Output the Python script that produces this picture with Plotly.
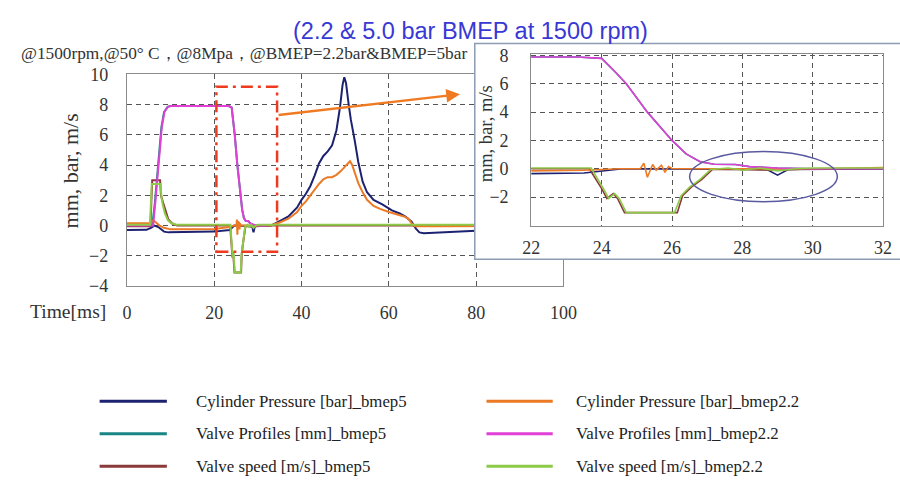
import plotly.graph_objects as go

W, H = 900, 484

# ---------------- data ----------------
cyl5_t = [0, 4.5, 5.5, 6.3, 7.2, 8.5, 9.5, 15, 20, 23.5, 24.2, 24.6, 26, 27.5, 28.7, 29.0, 29.3, 30.5, 33,
          35, 37, 39, 40, 41, 42, 43, 44, 45, 46, 47, 48, 48.8, 49.4, 49.8, 50.2, 50.8, 51.3, 52.2, 53, 54, 55,
          56.5, 58.5, 60.7, 62.5, 63.8, 65.2, 66.2, 67, 68, 72, 80, 100]
cyl5_v = [-0.3, -0.28, -0.15, 0.0, -0.1, -0.4, -0.45, -0.42, -0.4, -0.3, -0.1, 0.0, -0.02, -0.05, -0.05, -0.45, -0.05, -0.03, 0.0,
          0.3, 0.6, 1.2, 1.7, 2.1, 2.6, 3.3, 4.1, 4.6, 4.9, 5.3, 6.3, 7.8, 9.3, 9.8, 9.4, 8.0, 7.0, 5.6, 4.2, 2.9, 2.2,
          1.7, 1.4, 1.0, 0.8, 0.6, 0.25, -0.2, -0.45, -0.5, -0.45, -0.35, -0.35]

cyl22_t = [0, 5.5, 6.0, 6.6, 7.5, 8.5, 10, 15, 20, 23.5, 24.5, 25.1, 25.2, 25.3, 25.45, 25.55, 25.7, 25.8, 25.9, 26.0,
           26.5, 30, 33, 35, 37, 39, 40, 41, 42, 43, 44, 45, 46, 47, 48, 49, 50, 50.6, 51.1, 51.6, 52.3, 53, 54, 55,
           56.5, 58, 60, 62, 63.5, 64.5, 65.2, 66, 72, 100]
cyl22_v = [0.15, 0.15, 0.35, 0.2, 0.0, -0.15, -0.25, -0.25, -0.22, -0.1, 0.0, 0.0, 0.4, -0.6, 0.3, -0.1, 0.25, -0.25, 0.15, 0.02,
           0.0, 0.0, 0.02, 0.2, 0.45, 0.9, 1.3, 1.6, 2.0, 2.4, 2.75, 3.05, 3.2, 3.2, 3.35, 3.6, 3.9, 4.1, 4.25, 4.0, 3.4, 2.8, 2.2, 1.7,
           1.3, 1.1, 0.9, 0.75, 0.6, 0.45, 0.15, -0.05, -0.05, 0.0]

valve5_t = [0, 5.8, 6.4, 7.1, 7.9, 8.5, 9.3, 10, 23.3, 24.0, 24.4, 24.7, 25.3, 26.0, 26.4, 26.8, 27.2, 27.8, 28.2, 29.0, 30.0, 32]
valve5_v = [0, 0, 1.5, 3.7, 6.5, 7.5, 7.85, 7.9, 7.9, 7.8, 6.8, 6.0, 4.0, 2.0, 1.05, 0.5, 0.32, 0.3, 0.15, 0.05, 0.0, 0.0]

valve22_t = [0, 6.0, 6.5, 7.2, 8.0, 8.6, 9.4, 10, 23.3, 24.0, 24.4, 24.7, 25.3, 26.0, 26.4, 26.8, 27.2, 27.8, 28.2, 29.0, 30.0, 32]
valve22_v = [0, 0, 1.5, 3.7, 6.5, 7.5, 7.85, 7.9, 7.9, 7.8, 6.8, 6.0, 4.0, 2.0, 1.05, 0.5, 0.32, 0.3, 0.15, 0.05, 0.0, 0.0]

speed5_t = [0, 5.4, 5.6, 5.8, 7.6, 7.8, 8.3, 8.8, 9.5, 10.3, 11.5, 12, 22, 23.65, 24.0, 24.15, 24.33, 24.45, 24.65, 26.15,
            26.3, 26.55, 26.85, 27.15, 28, 29, 30, 100]
speed5_v = [-0.05, -0.05, 1.6, 3.0, 3.0, 2.0, 1.5, 1.0, 0.4, 0.15, 0.0, 0.0, 0.0, 0.0, -1.4, -2.1, -1.75, -2.1, -3.1, -3.1,
            -1.9, -1.3, -0.75, -0.05, -0.05, -0.1, 0.0, 0.0]

speed22_t = [0, 5.3, 5.5, 5.7, 7.7, 7.9, 8.2, 8.7, 9.4, 10.2, 11.3, 12, 22, 23.7, 24.05, 24.2, 24.37, 24.5, 24.7, 26.07,
             26.26, 26.5, 26.8, 27.1, 27.6, 28.0, 28.5, 29.0, 29.5, 30, 100]
speed22_v = [0.05, 0.05, 1.5, 2.75, 2.75, 1.9, 1.4, 0.8, 0.35, 0.15, 0.05, 0.05, 0.08, 0.05, -1.4, -2.1, -1.76, -2.1, -3.1, -3.1,
             -1.9, -1.3, -0.75, -0.05, 0.05, -0.1, 0.05, -0.15, 0.0, 0.05, 0.05]

series_names = ["Cylinder Pressure [bar]_bmep5", "Valve Profiles [mm]_bmep5", "Valve speed [m/s]_bmep5",
                "Cylinder Pressure [bar]_bmep2.2", "Valve Profiles [mm]_bmep2.2", "Valve speed [m/s]_bmep2.2"]
series_colors = ["#1d2270", "#1a8585", "#8b3a3a", "#ec7a24", "#e040d6", "#8cca48"]
series_t = [cyl5_t, valve5_t, speed5_t, cyl22_t, valve22_t, speed22_t]
series_v = [cyl5_v, valve5_v, speed5_v, cyl22_v, valve22_v, speed22_v]
draw_order = [0, 1, 2, 3, 4, 5]

main_xticks = [0, 20, 40, 60, 80, 100]
main_yticks = [-4, -2, 0, 2, 4, 6, 8, 10]
inset_xticks = [22, 24, 26, 28, 30, 32]
inset_yticks = [-2, 0, 2, 4, 6, 8]

title_text = "(2.2 & 5.0 bar BMEP at 1500 rpm)"
subtitle_text = "@1500rpm,@50° C，@8Mpa，@BMEP=2.2bar&BMEP=5bar"
ytitle_text = "mm, bar, m/s"
xtitle_text = "Time[ms]"

# ---------------- figure ----------------
fig = go.Figure()

# empty trace so that the white inset-box subplot exists (it hides the main chart below it)
fig.add_trace(go.Scatter(x=[None], y=[None], xaxis="x2", yaxis="y2", showlegend=False, hoverinfo="skip"))

for i in draw_order:
    fig.add_trace(go.Scatter(x=series_t[i], y=series_v[i], mode="lines", name=series_names[i],
                             line=dict(color=series_colors[i], width=2), xaxis="x", yaxis="y",
                             showlegend=False))
for i in draw_order:
    fig.add_trace(go.Scatter(x=series_t[i], y=series_v[i], mode="lines", name=series_names[i],
                             line=dict(color=series_colors[i], width=1.6), xaxis="x3", yaxis="y3",
                             showlegend=False))

def px_x(p):
    return p / W

def px_y(p):
    return 1 - p / H

serif = "Liberation Serif, Times New Roman, serif"
tickfont = dict(family=serif, size=18, color="#333333")
grid = dict(showgrid=True, gridcolor="#555555", gridwidth=1, griddash="5px,4px", zeroline=False,
            showline=True, linecolor="#8a8a8a", linewidth=1.2, mirror=True, ticks="")

fig.update_layout(
    width=W, height=H, margin=dict(l=0, r=0, t=0, b=0),
    paper_bgcolor="white", plot_bgcolor="white", showlegend=False,
    xaxis=dict(domain=[px_x(121), px_x(569)], range=[0, 100], tickvals=main_xticks, anchor="y",
               tickfont=tickfont, ticklabelstandoff=10, **grid),
    yaxis=dict(domain=[px_y(288), px_y(67)], range=[-4, 10], tickvals=main_yticks, anchor="x",
               tickfont=tickfont, ticklabelstandoff=14, **grid),
    xaxis2=dict(domain=[px_x(478), 1.0], range=[0, 1], anchor="y2", showgrid=False, zeroline=False,
                showticklabels=False, showline=False, ticks=""),
    yaxis2=dict(domain=[px_y(260), px_y(35)], range=[0, 1], anchor="x2", showgrid=False, zeroline=False,
                showticklabels=False, showline=False, ticks=""),
    xaxis3=dict(domain=[px_x(536), px_x(897)], range=[22, 32], tickvals=inset_xticks, anchor="y3",
                tickfont=tickfont, ticklabelstandoff=5, **grid),
    yaxis3=dict(domain=[px_y(225.7), px_y(46)], range=[-4.07, 8.1], tickvals=inset_yticks, anchor="x3",
                tickfont=tickfont, ticklabelstandoff=18, **grid),
)

# inset box border (its right side runs off the page, as in the picture)
fig.add_shape(type="rect", xref="paper", yref="paper", x0=px_x(478), x1=px_x(930), y0=px_y(260), y1=px_y(35),
              line=dict(color="#8d9cb3", width=1.5), layer="above")
# dash-dot zoom rectangle on main chart
fig.add_shape(type="rect", xref="x", yref="y", x0=20.5, x1=34.4, y0=-1.73, y1=9.18,
              line=dict(color="#ee3a1e", width=2.5, dash="12px,5px,3px,5px"), layer="above")
# ellipse in inset
fig.add_shape(type="circle", xref="x3", yref="y3", x0=26.5, x1=30.7, y0=-2.33, y1=1.22,
              line=dict(color="#5a5aa0", width=1.5), layer="above")

# arrow
fig.add_annotation(x=76.3, y=8.68, ax=34.4, ay=7.29, xref="x", yref="y", axref="x", ayref="y",
                   text="", showarrow=True, arrowhead=2, arrowsize=1.1, arrowwidth=2.5, arrowcolor="#f07a22")

# texts
def text(x, y, s, size, family=serif, color="#333333", xanchor="center", angle=0):
    fig.add_annotation(x=px_x(x), y=px_y(y), xref="paper", yref="paper", text=s, showarrow=False,
                       xanchor=xanchor, yanchor="middle", textangle=angle,
                       font=dict(family=family, size=size, color=color))

text(474, 22, title_text, 23.5, family="Liberation Sans, Arial, sans-serif", color="#3838d4")
text(10, 45.5, subtitle_text, 17.3, xanchor="left")
text(63, 168, ytitle_text, 22, angle=-90)
text(20, 315, xtitle_text, 19.5, xanchor="left")
text(489, 129, ytitle_text, 18.5, angle=-90)

# legend (two columns, three rows)
leg_rows = [408, 442, 476]
leg_cols = [(93, 162, 190), (490, 558, 580)]
for k in range(6):
    col = leg_cols[0] if k < 3 else leg_cols[1]
    row = leg_rows[k % 3]
    fig.add_shape(type="line", xref="paper", yref="paper", x0=px_x(col[0]), x1=px_x(col[1]),
                  y0=px_y(row), y1=px_y(row), line=dict(color=series_colors[k], width=3))
    text(col[2], row, series_names[k], 16.8, color="#222222", xanchor="left")

fig.write_html("out.html")
